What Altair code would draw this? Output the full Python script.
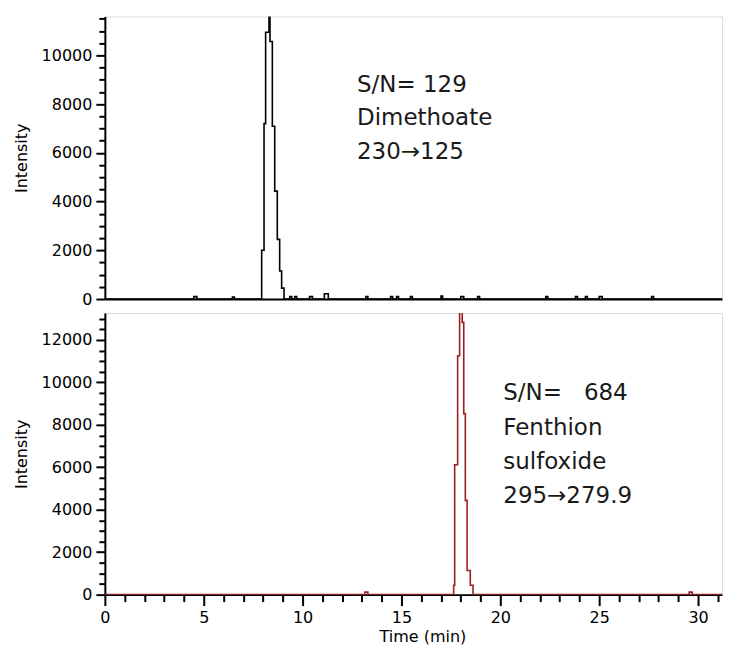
import altair as alt
import pandas as pd

# ---- data ----
# Dimethoate trace (time in min, intensity), drawn as a step trace
top_time = [0, 4.5, 4.65, 6.45, 6.55, 7.93, 8.05, 8.13, 8.30, 8.35, 8.47, 8.59, 8.72,
            8.84, 8.94, 9.06, 9.35, 9.45, 9.6, 9.7, 10.35, 10.5, 11.1, 11.3, 13.2, 13.3,
            14.45, 14.55, 14.75, 14.85, 15.45, 15.55, 17.0, 17.08, 18.0, 18.15, 18.85,
            18.95, 22.3, 22.4, 23.8, 23.9, 24.3, 24.4, 25.0, 25.15, 27.65, 27.75, 31.7]
top_int = [0, 100, 0, 80, 0, 2000, 7200, 10950, 11600, 10570, 7090, 4430, 2450,
           1150, 450, 0, 100, 0, 100, 0, 100, 0, 220, 0, 100, 0,
           100, 0, 100, 0, 100, 0, 120, 0, 100, 0, 100,
           0, 100, 0, 100, 0, 100, 0, 100, 0, 100, 0, 0]

# Fenthion sulfoxide trace
bot_time = [0, 13.15, 13.3, 17.64, 17.69, 17.84, 17.94, 18.07, 18.15, 18.23, 18.32,
            18.48, 18.62, 29.55, 29.7, 31.7]
bot_int = [0, 120, 0, 440, 6120, 11260, 13380, 12830, 8530, 4440, 1140,
           440, 0, 120, 0, 0]

top_label = ["S/N= 129", "Dimethoate", "230\u2192125"]
bot_label = ["S/N=\u00a0\u00a0\u00a0684", "Fenthion", "sulfoxide", "295\u2192279.9"]
top_label_pos = (12.75, 9250)
bot_label_pos = (20.15, 10000)

x_max = 31.21
top_ymax = 11600
bot_ymax = 13270

top_df = pd.DataFrame({"t": top_time, "i": top_int})
bot_df = pd.DataFrame({"t": bot_time, "i": bot_int})
top_note = pd.DataFrame({"t": [top_label_pos[0]], "i": [top_label_pos[1]],
                         "label": ["\n".join(top_label)]})
bot_note = pd.DataFrame({"t": [bot_label_pos[0]], "i": [bot_label_pos[1]],
                         "label": ["\n".join(bot_label)]})

FONT = "DejaVu Sans"
NOTE_FONT = "DejaVu Sans"


def y_axis(vmax):
    return alt.Axis(
        title="Intensity",
        values=list(range(0, vmax + 1, 500)),
        tickCount=200,
        format="d",
        labelExpr="datum.value % 2000 === 0 ? datum.label : ''",
        tickSize={"condition": {"test": "datum.value % 2000 === 0", "value": 9}, "value": 6},
        tickWidth=2, tickColor="black",
        domainColor="black", domainWidth=2,
        labelPadding=4, labelFont=FONT, labelFontSize=16, labelColor="black",
        labelFlush=False, labelOverlap=False,
        titleFont=FONT, titleFontSize=16, titleFontWeight="normal", titleColor="black",
        titlePadding=12, grid=False,
    )


x_scale = alt.Scale(domain=[0, x_max], nice=False, zero=False)

top_x_axis = alt.Axis(labels=False, ticks=False, title=None, grid=False,
                      domainColor="black", domainWidth=2)

bot_x_axis = alt.Axis(
    title="Time (min)",
    values=list(range(0, 32)),
    tickCount=200,
    format="d",
    labelExpr="datum.value % 5 === 0 ? datum.label : ''",
    tickSize={"condition": {"test": "datum.value % 5 === 0", "value": 11}, "value": 7},
    tickWidth=2, tickColor="black",
    domainColor="black", domainWidth=2,
    labelPadding=4, labelFont=FONT, labelFontSize=16, labelColor="black",
    labelFlush=False, labelOverlap=False,
    titleFont=FONT, titleFontSize=16, titleFontWeight="normal", titleColor="black",
    titlePadding=3, titleX=318, titleAlign="center", grid=False,
)

top_line = alt.Chart(top_df).mark_line(
    interpolate="step-after", color="black", strokeWidth=1.6, clip=True
).encode(
    x=alt.X("t:Q", scale=x_scale, axis=top_x_axis),
    y=alt.Y("i:Q", scale=alt.Scale(domain=[0, top_ymax], nice=False), axis=y_axis(11500)),
)
top_text = alt.Chart(top_note).mark_text(
    align="left", baseline="top", font=NOTE_FONT, fontSize=23, color="#1a1a1a",
    lineBreak="\n", lineHeight=33.5
).encode(x="t:Q", y="i:Q", text="label:N")

bot_color = "#9c1f1f"
bot_line = alt.Chart(bot_df).mark_line(
    interpolate="step-after", color=bot_color, strokeWidth=1.6, clip=True
).encode(
    x=alt.X("t:Q", scale=x_scale, axis=bot_x_axis),
    y=alt.Y("i:Q", scale=alt.Scale(domain=[0, bot_ymax], nice=False), axis=y_axis(13000)),
)
bot_text = alt.Chart(bot_note).mark_text(
    align="left", baseline="top", font=NOTE_FONT, fontSize=23, color="#1a1a1a",
    lineBreak="\n", lineHeight=34.3
).encode(x="t:Q", y="i:Q", text="label:N")

top = alt.layer(top_line, top_text).properties(width=618, height=283)
bot = alt.layer(bot_line, bot_text).properties(width=618, height=282)

chart = alt.vconcat(top, bot, spacing=14, bounds="flush").properties(
    padding={"left": 4, "top": 1, "right": 0, "bottom": 0}
).configure_view(stroke=None).configure(background="white")

chart.save("out.html", embed_options={"renderer": "svg", "actions": False})
